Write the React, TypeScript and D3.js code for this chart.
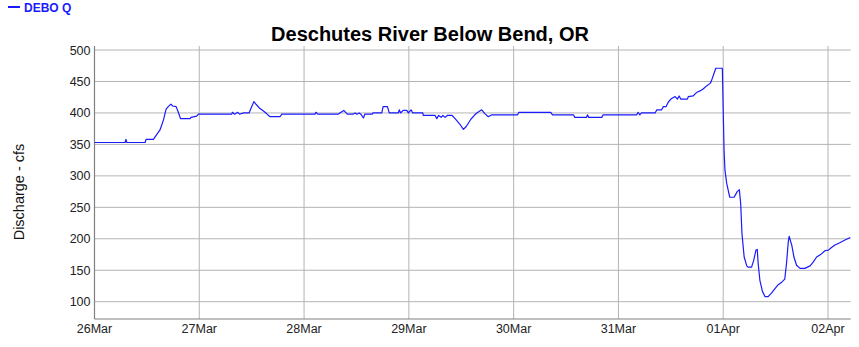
import React from "react";
import * as d3 from "d3";

// Hours since 26 Mar 00:00 and discharge (cfs)
const hours = [
  0, 7.0, 7.2, 7.4, 11.6, 11.8, 13.5, 14.2, 15.0, 15.8, 16.4, 16.9, 17.5, 17.9, 18.7, 19.2, 19.7, 21.9, 22.1, 23.4, 23.8,
  31.4, 31.6, 32.1, 32.8, 33.2, 34.2, 35.4, 36.0, 36.5, 37.1, 37.9, 38.7, 39.4, 40.2, 42.5, 42.9,
  50.5, 50.7, 51.2, 55.8, 56.2, 57.1, 57.9, 59.2, 59.7, 60.1, 60.6, 61.0, 61.6, 61.9, 63.6, 63.8, 65.8, 66.1, 67.1, 67.5,
  69.6, 69.8, 70.1, 70.7, 71.5, 71.9, 72.5, 72.9, 75.2, 75.3, 78.0, 78.4, 78.8, 79.4, 79.8, 80.3, 80.8, 81.9, 82.6,
  83.7, 84.5, 85.1, 86.2, 87.1, 87.8, 88.7, 89.4, 90.2, 91.0, 96.9, 97.2, 104.5, 104.9, 109.7, 110.0, 112.7, 112.9, 113.2,
  116.2, 116.5, 124.2, 124.5, 124.9, 125.3, 128.4, 128.8, 129.9, 130.3, 130.9, 131.4, 132.0, 133.0, 133.5, 133.9, 134.3,
  135.8, 136.0, 137.1, 138.0, 138.7, 139.4, 140.2, 141.0, 141.3, 142.1, 142.3, 143.8,
  144.2, 144.4, 144.8, 145.5, 146.5, 147.2, 147.7, 148.0, 148.3, 148.8, 149.4, 149.7, 150.5, 151.0, 151.5, 151.8, 152.0,
  152.4, 153.0, 153.6, 154.3, 155.1, 155.9, 156.6, 157.4, 158.1, 158.5, 158.9, 159.1, 159.7, 160.2, 160.8, 161.6, 162.7,
  163.9, 164.6, 165.4, 166.5, 167.3, 168.1, 168.8, 169.6, 170.8, 171.9, 173.1,
];
const discharge = [
  353, 353, 358, 353, 353, 358, 358, 365, 373, 389, 406, 410, 414, 411, 410, 401, 391, 391, 393, 395, 398,
  398, 401, 398, 401, 398, 400, 400, 410, 418, 413, 407, 403, 399, 394, 394, 398,
  398, 401, 398, 398, 400, 404, 398, 398, 400, 398, 400, 398, 392, 398, 398, 400, 400, 410, 410, 400,
  400, 405, 400, 404, 404, 400, 405, 400, 400, 396, 396, 391, 396, 393, 396, 393, 396, 396, 391,
  382, 374, 378, 390, 397, 401, 405, 399, 394, 397, 397, 401, 401, 397, 397, 393, 393, 397, 393,
  393, 397, 397, 401, 397, 400, 400, 405, 405, 410, 410, 417, 422, 426, 422, 427, 422,
  422, 426, 427, 433, 435, 438, 443, 447, 451, 467, 471, 471,
  340, 309, 288, 266, 266, 275, 278, 256, 208, 171, 157, 155, 155, 166, 182, 183, 161,
  134, 116, 108, 108, 114, 121, 127, 131, 136, 161, 195, 204, 190, 171, 158, 153, 153,
  157, 163, 171, 176, 181, 182, 186, 190, 194, 198, 202,
];
const yTicks = [100, 150, 200, 250, 300, 350, 400, 450, 500];
const title = "Deschutes River Below Bend, OR";
const seriesName = "DEBO Q";
const yLabel = "Discharge - cfs";

const W = 859;
const H = 347;
const margin = { left: 94.5, right: 8.3, top: 46, bottom: 28 };
const start = Date.UTC(2024, 2, 26, 0, 0);
const endHours = 173.2;
const yDomain: [number, number] = [72.5, 506.4];

export default function App() {
  const x = d3
    .scaleUtc()
    .domain([new Date(start), new Date(start + endHours * 3600e3)])
    .range([margin.left, W - margin.right]);
  const y = d3.scaleLinear().domain(yDomain).range([H - margin.bottom, margin.top]);
  const xTicks = x.ticks(d3.utcDay.every(1)!);
  const fmt = d3.utcFormat("%d%b");
  const pts = hours.map((h, i) => ({ t: new Date(start + h * 3600e3), v: discharge[i] }));
  const line = d3
    .line<{ t: Date; v: number }>()
    .x((d) => x(d.t))
    .y((d) => y(d.v));
  const font = "Arial, 'Liberation Sans', sans-serif";
  const x0 = margin.left;
  const x1 = W - margin.right;
  const yb = H - margin.bottom;
  return (
    <svg
      width={W}
      height={H}
      style={{ position: "absolute", left: 0, top: 0, background: "#fff" }}
      fontFamily={font}
    >
      {yTicks.map((t) => (
        <line key={"gy" + t} x1={x0} x2={x1} y1={y(t)} y2={y(t)} stroke="#b4b4b4" strokeWidth={1} />
      ))}
      {xTicks.map((t, i) => (
        <line key={"gx" + i} x1={x(t)} x2={x(t)} y1={margin.top} y2={yb} stroke="#b4b4b4" strokeWidth={1} />
      ))}
      <line x1={x0} x2={x0} y1={margin.top} y2={yb} stroke="#808080" strokeWidth={1.2} />
      <line x1={x0} x2={x1} y1={yb} y2={yb} stroke="#808080" strokeWidth={1.2} />
      {yTicks.map((t) => (
        <text key={"ly" + t} x={90.5} y={y(t)} dy="0.36em" textAnchor="end" fontSize={12.5} fill="#222">
          {t}
        </text>
      ))}
      {xTicks.map((t, i) => (
        <text key={"lx" + i} x={x(t)} y={333} textAnchor="middle" fontSize={12.5} fill="#222">
          {fmt(t)}
        </text>
      ))}
      <path d={line(pts) || ""} fill="none" stroke="#1a1aff" strokeWidth={1.2} strokeLinejoin="round" />
      <text x={430} y={41} textAnchor="middle" fontSize={20} fontWeight="bold" fill="#000">
        {title}
      </text>
      <text
        transform={`translate(24,192) rotate(-90)`}
        textAnchor="middle"
        fontSize={14.5}
        fill="#111"
      >
        {yLabel}
      </text>
      <line x1={8} x2={20} y1={7} y2={7} stroke="#1a1aff" strokeWidth={2} />
      <text x={24} y={11.5} fontSize={12} fontWeight="bold" fill="#1a1aff">
        {seriesName}
      </text>
    </svg>
  );
}
